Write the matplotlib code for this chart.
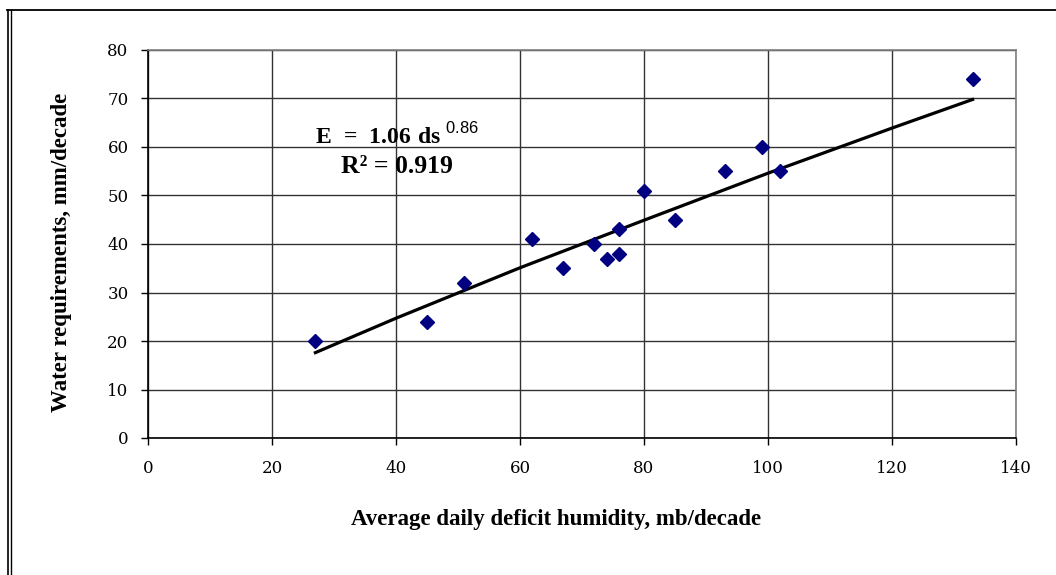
import matplotlib.pyplot as plt
from matplotlib.lines import Line2D

# measured points
ds = [27, 45, 51, 62, 67, 72, 74, 76, 76, 80, 85, 93, 99, 102, 133]
water = [20, 24, 32, 41, 35, 40, 37, 38, 43, 51, 45, 55, 60, 55, 74]

# power trendline
trend_x = [27, 40, 60, 80, 100, 120, 133]
trend_y = [17.6, 24.7, 35.1, 44.9, 54.6, 63.9, 69.8]

x_ticks = [0, 20, 40, 60, 80, 100, 120, 140]
y_ticks = [0, 10, 20, 30, 40, 50, 60, 70, 80]

plt.rcParams['font.family'] = ['Liberation Serif', 'DejaVu Serif']
plt.rcParams['mathtext.fontset'] = 'custom'
plt.rcParams['mathtext.rm'] = 'Liberation Serif'
plt.rcParams['mathtext.bf'] = 'Liberation Serif:bold'
plt.rcParams['mathtext.sf'] = 'Liberation Sans'

fig = plt.figure(figsize=(10.56, 5.75), dpi=100)
ax = fig.add_axes([148 / 1056, 1 - 438 / 575, (1016 - 148) / 1056, (438 - 50) / 575])

ax.plot(trend_x, trend_y, color='black', lw=2.3, zorder=3)
ax.plot(ds, water, linestyle='none', marker='D', ms=7.5, color='#000080', zorder=4)

ax.set_xlim(0, 140)
ax.set_ylim(0, 80)
ax.set_xticks(x_ticks)
ax.set_yticks(y_ticks)
ax.grid(True, color='#333333', lw=1)
ax.set_axisbelow(True)
ax.tick_params(direction='out', length=5, width=1, color='black')
ax.tick_params(axis='x', pad=11)
ax.tick_params(axis='y', pad=9)
for lab in ax.get_xticklabels() + ax.get_yticklabels():
    lab.set_fontfamily('DejaVu Serif')
    lab.set_fontsize(12)
for side in ['left', 'bottom']:
    ax.spines[side].set_color('black')
for side in ['top', 'right']:
    ax.spines[side].set_color('#808080')
for s in ax.spines.values():
    s.set_linewidth(1.2)

ax.text(40.2, 62.3, r'$\mathbf{E\ =\ 1.06\ ds}^{\ \mathsf{0.86}}$', fontsize=17,
        ha='center', va='center', zorder=5)
ax.text(40.2, 56.0, 'R² = 0.919', fontsize=18.5, fontweight='bold',
        ha='center', va='center', zorder=5)

fig.text(556 / 1056, 1 - 520 / 575, 'Average daily deficit humidity, mb/decade',
         fontsize=16.5, fontweight='bold', ha='center', va='center')
fig.text(62 / 1056, 1 - 252 / 575, 'Water requirements, mm/decade',
         fontsize=16.5, fontweight='bold', ha='center', va='center', rotation=90)

# outer frame
fig.add_artist(Line2D([7 / 1056, 1], [1 - 10 / 575, 1 - 10 / 575], color='black', lw=1.3,
                      transform=fig.transFigure))
fig.add_artist(Line2D([7.5 / 1056, 7.5 / 1056], [0, 1 - 10 / 575], color='black', lw=1.2,
                      transform=fig.transFigure))
fig.add_artist(Line2D([10.5 / 1056, 10.5 / 1056], [0, 1 - 10 / 575], color='black', lw=1.0,
                      transform=fig.transFigure))

fig.savefig('out.png', dpi=100)
